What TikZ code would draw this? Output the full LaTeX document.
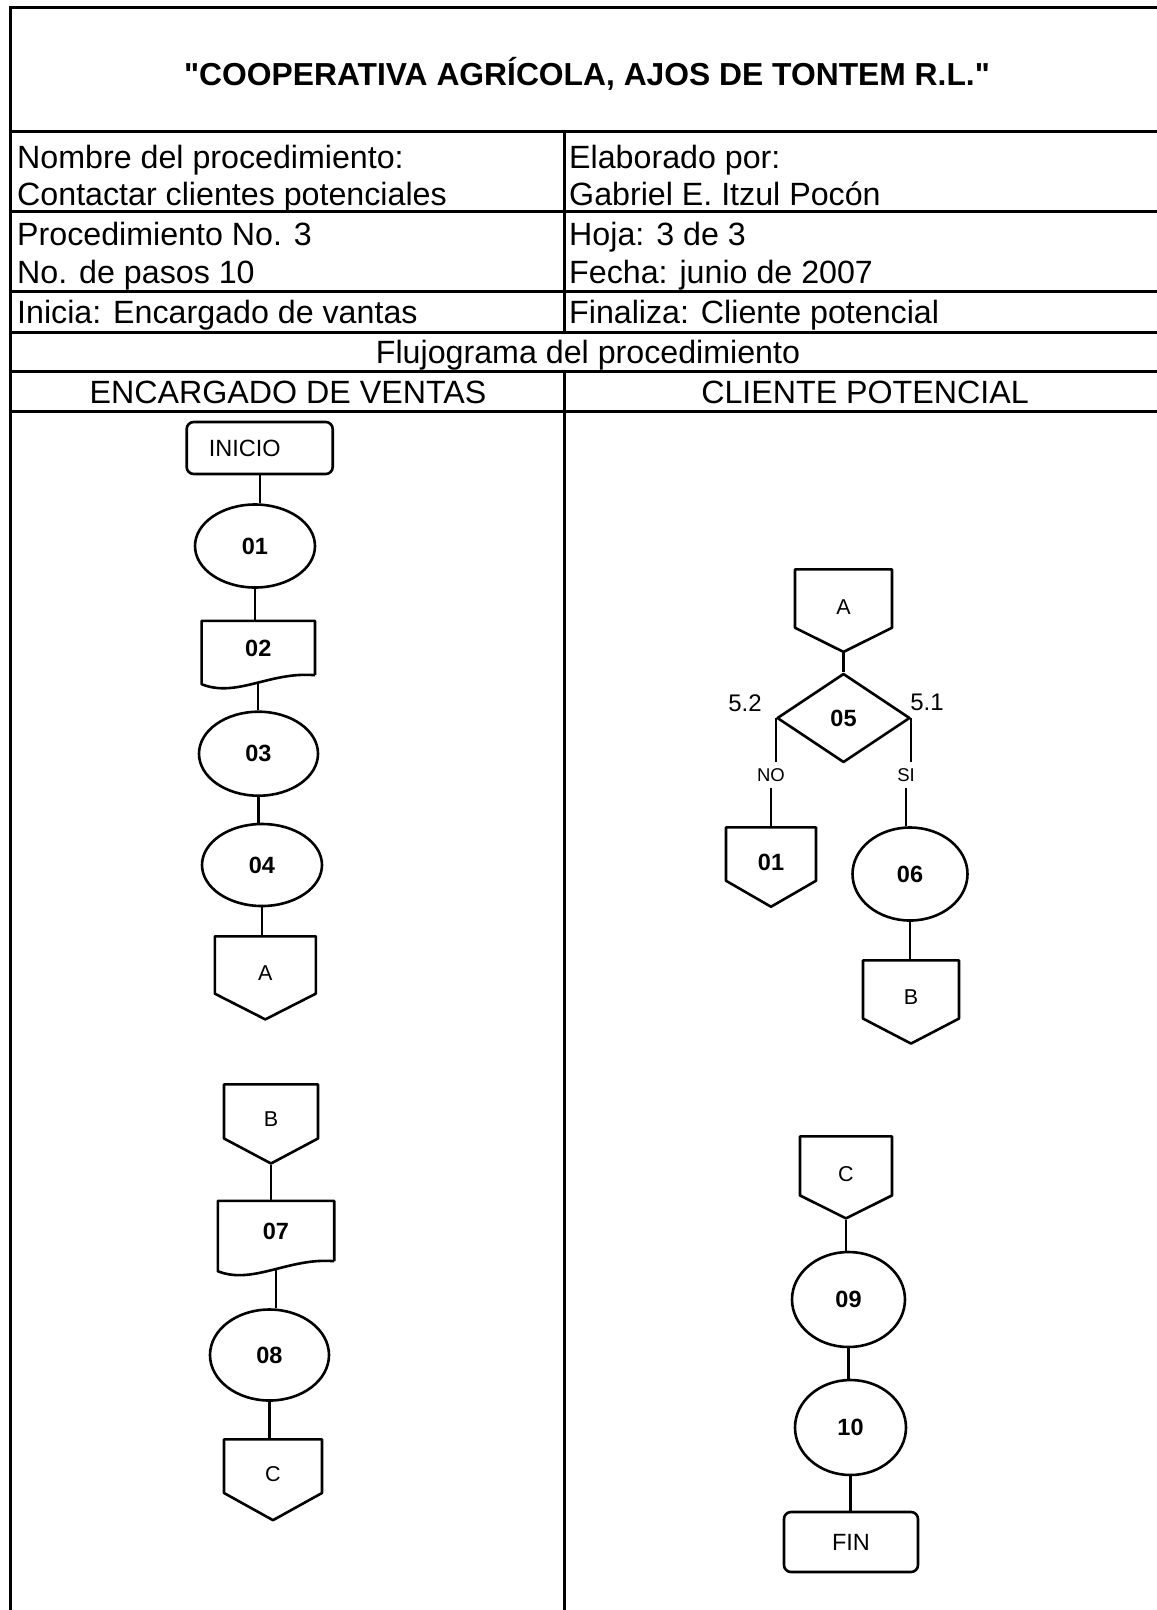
\documentclass[tikz,border=0pt]{standalone}
\usepackage{fontspec}
\setmainfont{Liberation Sans}
\usetikzlibrary{shapes.geometric,shapes.symbols}

\tikzset{
  rule/.style={line width=3pt},
  link/.style={line width=2.2pt},
  outline/.style={line width=2.6pt, line join=round},
  proc/.style={draw, ellipse, outline, inner sep=0pt,
    minimum width=119pt, minimum height=80pt,
    font=\fontsize{23.5}{28}\selectfont\bfseries},
  term/.style={draw, rectangle, rounded corners=7pt, outline,
    minimum width=140pt, minimum height=46pt,
    font=\fontsize{23.5}{28}\selectfont},
  docu/.style={rectangle, inner sep=0pt,
    minimum width=113pt, minimum height=51pt,
    font=\fontsize{23.5}{28}\selectfont\bfseries},
  offpage/.style={draw, signal, signal to=south, signal pointer angle=124,
    outline, inner sep=0pt, anchor=north,
    minimum width=96pt, minimum height=60pt,
    text height=31pt, text depth=0pt,
    font=\fontsize{21.5}{25}\selectfont},
  decision/.style={draw, diamond, outline, inner sep=0pt,
    minimum width=133pt, minimum height=89pt,
    font=\fontsize{23.5}{28}\selectfont\bfseries},
  tag/.style={inner sep=6pt, font=\fontsize{18.5}{22}\selectfont},
  cell/.style={anchor=base west, inner sep=0pt, font=\fontsize{32.2}{36}\selectfont},
  head/.style={anchor=base, inner sep=0pt, font=\fontsize{32.2}{36}\selectfont},
}

% wavy bottom of a document box: node name, drop of the left end
\newcommand{\docline}[2]{%
  \draw[outline] (#1.south east) -- (#1.north east) -- (#1.north west)
    -- ([yshift=-#2]#1.south west)
    .. controls +(35pt,-14pt) and +(-45pt,4pt) .. (#1.south east);}

\begin{document}
\begin{tikzpicture}[x=1pt,y=-1pt]
  \useasboundingbox (0,0) rectangle (1157,1610);

  % table
  \draw[rule] (10,1620) -- (10,7) -- (1165,7);
  \foreach \y in {131,211,291,332,371,411}
    \draw[rule] (10,\y) -- (1165,\y);
  \draw[rule] (564,131) -- (564,332);
  \draw[rule] (564,371) -- (564,1620);

  \node[head, font=\fontsize{31.8}{36}\selectfont\bfseries] (title) at (587,85)
    {\textquotedbl COOPERATIVA AGRÍCOLA, AJOS DE TONTEM R.L.\textquotedbl};
  \node[cell] (nom) at (17,168) {Nombre del procedimiento:};
  \node[cell] (con) at (17,205) {Contactar clientes potenciales};
  \node[cell] (pro) at (17,245) {Procedimiento No. 3};
  \node[cell] (pas) at (17,283) {No. de pasos 10};
  \node[cell] (ini-t) at (17,323) {Inicia: Encargado de vantas};
  \node[cell] (ela) at (569,168) {Elaborado por:};
  \node[cell] (gab) at (569,205) {Gabriel E. Itzul Pocón};
  \node[cell] (hoj) at (569,245) {Hoja: 3 de 3};
  \node[cell] (fec) at (569,283) {Fecha: junio de 2007};
  \node[cell] (fin-t) at (569,323) {Finaliza: Cliente potencial};
  \node[head] (flu) at (588,363) {Flujograma del procedimiento};
  \node[head] (enc) at (288,403) {ENCARGADO DE VENTAS};
  \node[head] (cli) at (865,403) {CLIENTE POTENCIAL};

  % encargado de ventas
  \node[term, minimum width=146pt, minimum height=52pt] (ini) at (259.7,448) {INICIO\hspace*{30pt}};
  \node[proc, minimum width=120pt, minimum height=83pt] (n01) at (255,546) {01};
  \node[docu, minimum width=113pt, minimum height=54pt] (n02) at (258.3,648) {02};
  \docline{n02}{9pt}
  \node[proc, minimum height=84pt] (n03) at (258.5,753.7) {03};
  \node[proc, minimum width=120pt, minimum height=82pt] (n04) at (262,865) {04};
  \node[offpage, minimum width=101pt, minimum height=61pt, signal pointer angle=126] (outA) at (265.3,935) {A};

  \node[offpage, minimum width=94pt, minimum height=58pt] (inB) at (271,1083) {B};
  \node[docu, minimum width=116pt, minimum height=60pt] (n07) at (276,1231) {07};
  \docline{n07}{10pt}
  \node[proc, minimum height=91pt] (n08) at (269.5,1355) {08};
  \node[offpage, minimum width=98pt, minimum height=58pt, signal pointer angle=122] (outC) at (273,1438) {C};

  % cliente potencial
  \node[offpage, minimum width=97pt, minimum height=62pt, signal pointer angle=127] (inA) at (843.5,568) {A};
  \node[decision] (n05) at (843.5,718) {05};
  \node[inner sep=0pt, font=\fontsize{24}{28}\selectfont] (l52) at (745,703) {5.2};
  \node[inner sep=0pt, font=\fontsize{24}{28}\selectfont] (l51) at (927,702) {5.1};
  \node[tag] (no) at (771,775) {NO};
  \node[tag] (si) at (906,775) {SI};
  \node[offpage, minimum width=90pt, minimum height=61pt, signal pointer angle=120,
    text height=33pt, font=\fontsize{23.5}{28}\selectfont\bfseries] (back01) at (771,826) {01};
  \node[proc, minimum width=115pt, minimum height=93pt] (n06) at (910,874) {06};
  \node[offpage, minimum height=62pt, signal pointer angle=125] (outB) at (911,959) {B};

  \node[offpage, minimum width=92pt, minimum height=63pt, signal pointer angle=127] (inC) at (846,1135) {C};
  \node[proc, minimum width=113pt, minimum height=95pt] (n09) at (848.5,1299.5) {09};
  \node[proc, minimum width=111pt, minimum height=95pt] (n10) at (850.5,1427.5) {10};
  \node[term, minimum width=134pt, minimum height=60pt] (fin) at (851,1542) {FIN};

  % connectors
  \draw[link] (ini.south) -- (ini.south |- n01.north);
  \draw[link] (n01.south) -- (n01.south |- n02.north);
  \draw[link] ([yshift=-7pt]n02.south) -- (n02.south |- n03.north);
  \draw[link] (n03.south) -- (n03.south |- n04.north);
  \draw[link] (n04.south) -- (n04.south |- outA.north);
  \draw[link] (inB.south) -- (inB.south |- n07.north);
  \draw[link] ([yshift=-8pt]n07.south) -- (n07.south |- n08.north);
  \draw[link] (n08.south) -- (n08.south |- outC.north);
  \draw[link] (inA.south) -- (n05.north);
  \draw[link] (n05.west) -- (n05.west |- no.north);
  \draw[link] (no.south) -- (no.south |- back01.north);
  \draw[link] (n05.east) -- (n05.east |- si.north);
  \draw[link] (si.south) -- (si.south |- n06.north);
  \draw[link] (n06.south) -- (n06.south |- outB.north);
  \draw[link] (inC.south) -- (inC.south |- n09.north);
  \draw[link] (n09.south) -- (n09.south |- n10.north);
  \draw[link] (n10.south) -- (n10.south |- fin.north);
\end{tikzpicture}
\end{document}
